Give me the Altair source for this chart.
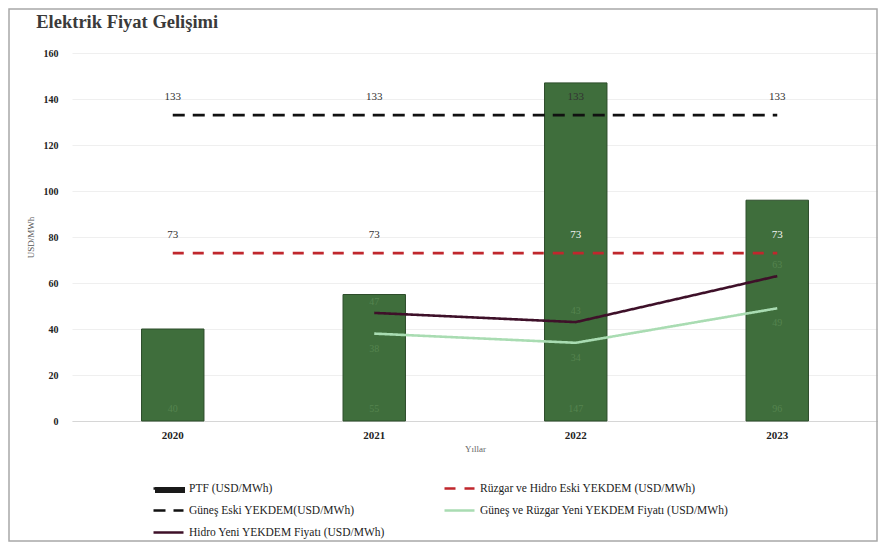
import altair as alt
import pandas as pd

# ---- data ----
years = ["2020", "2021", "2022", "2023"]
ptf = [40, 55, 147, 96]
ruzgar_hidro_eski = [73, 73, 73, 73]
gunes_eski = [133, 133, 133, 133]
gunes_ruzgar_yeni = [None, 38, 34, 49]
hidro_yeni = [None, 47, 43, 63]
y_ticks = [0, 20, 40, 60, 80, 100, 120, 140, 160]

S_PTF = "PTF (USD/MWh)"
S_RHE = "Rüzgar ve Hidro Eski YEKDEM (USD/MWh)"
S_GE = "Güneş Eski YEKDEM(USD/MWh)"
S_GRY = "Güneş ve Rüzgar Yeni YEKDEM Fiyatı (USD/MWh)"
S_HY = "Hidro Yeni YEKDEM Fiyatı (USD/MWh)"
# legend fills column by column: first column PTF, GE, HY; second RHE, GRY
series = [S_PTF, S_GE, S_HY, S_RHE, S_GRY]
series_colors = ["#1a1a1a", "#111111", "#3e1029", "#c0272d", "#a9dcb2"]
series_dash = [[1, 0], [12, 8], [1, 0], [11, 9], [1, 0]]

bar_df = pd.DataFrame({"year": years, "value": ptf, "series": [S_PTF] * len(years)})

rows = []
for name, vals in [(S_RHE, ruzgar_hidro_eski), (S_GE, gunes_eski),
                   (S_GRY, gunes_ruzgar_yeni), (S_HY, hidro_yeni)]:
    for yr, v in zip(years, vals):
        if v is not None:
            rows.append({"series": name, "year": yr, "value": v})
line_df = pd.DataFrame(rows)

SERIF = "Liberation Serif"
W, H = 806, 368
LX, LY = 80, 419
PB = 122

x_enc = alt.X(
    "year:N",
    scale=alt.Scale(domain=years, paddingInner=0.69, paddingOuter=0.345),
    axis=alt.Axis(
        title="Yıllar", labelAngle=0, labelFont=SERIF, labelFontSize=11,
        labelFontWeight="bold", labelColor="#222222", labelPadding=8,
        titleFont=SERIF, titleFontSize=9, titleFontWeight="normal",
        titleColor="#666666", titlePadding=4, ticks=False,
        domainColor="#d6d6d6", grid=False,
    ),
)
y_scale = alt.Scale(domain=[0, 160], nice=False)
y_enc = alt.Y(
    "value:Q",
    scale=y_scale,
    axis=alt.Axis(
        title="USD/MWh", values=y_ticks, labelFont=SERIF, labelFontSize=10,
        labelFontWeight="bold", labelColor="#222222", labelPadding=14,
        titleFont=SERIF, titleFontSize=9, titleFontWeight="normal",
        titleColor="#555555", titlePadding=8, domain=False, ticks=False,
        gridColor="#efefef", gridWidth=1,
    ),
)

legend_common = dict(
    title=None, orient="none", legendX=LX, legendY=LY, columns=2,
    symbolType="stroke", symbolSize=900,
    labelFont=SERIF, labelFontSize=11.5, labelColor="#222222", labelLimit=400,
    labelOffset=4, columnPadding=53, rowPadding=-9, padding=0,
)
legend = alt.Legend(symbolStrokeWidth=2.6, **legend_common)
legend_ptf = alt.Legend(symbolStrokeWidth=6, symbolStrokeColor="#1a1a1a",
                        labelExpr="''", **legend_common)

bars = alt.Chart(bar_df).mark_bar(stroke="#2d4d2b", strokeWidth=1).encode(
    x=x_enc, y=y_enc,
    fill=alt.Fill("series:N", scale=alt.Scale(domain=[S_PTF], range=["#3f6e3c"]), legend=legend_ptf),
)

bar_labels = alt.Chart(bar_df).mark_text(
    font=SERIF, fontSize=10, color="#55844f", dy=-12
).encode(x="year:N", y=alt.datum(0), text="value:Q")

frame = alt.Chart(alt.Data(values=[{}])).mark_rect(
    fillOpacity=0, stroke="#a8a8a8", strokeWidth=1.5
).encode(
    x=alt.value(-63), x2=alt.value(W - 1), y=alt.value(-44), y2=alt.value(H + PB - 2)
)

lines = alt.Chart(line_df).mark_line(strokeWidth=2.6).encode(
    x="year:N",
    y="value:Q",
    color=alt.Color("series:N", scale=alt.Scale(domain=series, range=series_colors), legend=legend),
    strokeDash=alt.StrokeDash("series:N", scale=alt.Scale(domain=series, range=series_dash), legend=legend),
)

eski_labels = alt.Chart(line_df).transform_filter(
    alt.FieldOneOfPredicate(field="series", oneOf=[S_RHE, S_GE])
).mark_text(font=SERIF, fontSize=11, dy=-18).encode(
    x="year:N", y="value:Q", text="value:Q",
    color=alt.condition(
        f"datum.series == '{S_RHE}' && (datum.year == '2022' || datum.year == '2023')",
        alt.value("#f2f2f2"), alt.value("#333333")),
)

hy_labels = alt.Chart(line_df).transform_filter(
    alt.FieldEqualPredicate(field="series", equal=S_HY)
).mark_text(font=SERIF, fontSize=10, dy=-11, color="#55844f").encode(
    x="year:N", y="value:Q", text="value:Q"
)
gry_labels = alt.Chart(line_df).transform_filter(
    alt.FieldEqualPredicate(field="series", equal=S_GRY)
).mark_text(font=SERIF, fontSize=10, dy=15, color="#55844f").encode(
    x="year:N", y="value:Q", text="value:Q"
)

chart = alt.layer(
    bars, bar_labels, frame, lines, eski_labels, hy_labels, gry_labels
).properties(
    width=W, height=H,
    padding={"left": 64, "top": 45, "right": 0, "bottom": PB},
    autosize=alt.AutoSizeParams(type="none"),
    title=alt.TitleParams(
        "Elektrik Fiyat Gelişimi", anchor="start", font=SERIF, fontSize=18.5,
        fontWeight="bold", color="#3a3a3a", dx=28, offset=0, dy=23,
    ),
    background="white",
).configure_view(stroke="transparent")

chart.save("out.html", embed_options={"renderer": "svg", "actions": False})
